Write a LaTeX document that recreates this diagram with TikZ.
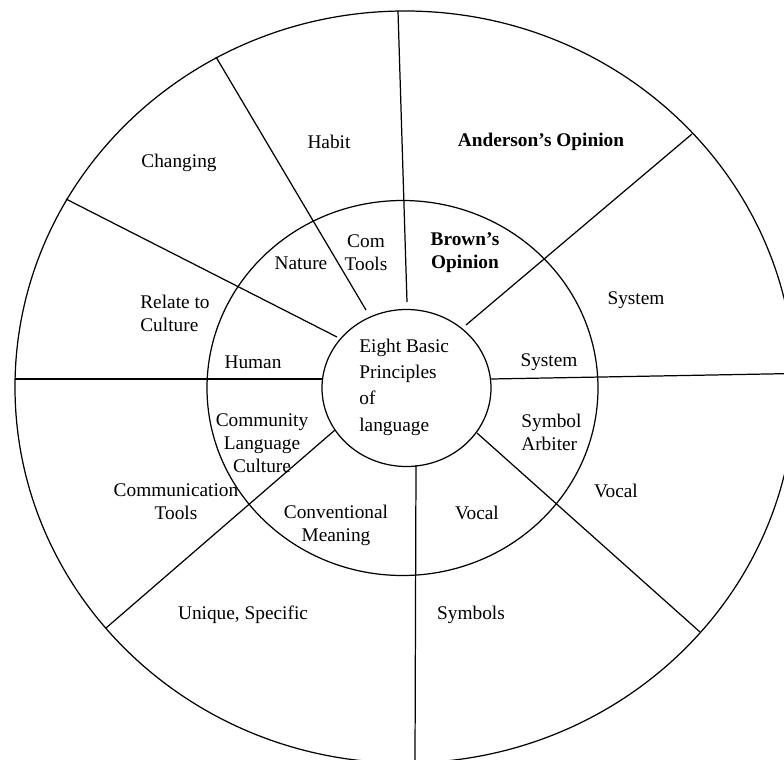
\documentclass[tikz,border=0pt]{standalone}
\usepackage{fontspec}
\setmainfont{Liberation Serif}
\usepackage{tikz}

\tikzset{
	ring/.style={line width=0.7pt},
	spoke/.style={line width=0.7pt},
	lbl/.style={font=\fontsize{11}{13}\selectfont, align=center, inner sep=0pt},
	blbl/.style={lbl, font=\fontsize{11}{13}\selectfont\bfseries},
	lbll/.style={lbl, align=left, anchor=west},
}

\begin{document}
\begin{tikzpicture}
			\useasboundingbox (-8.10,-7.44) rectangle (7.58,7.74);
			
			%Rings
			\draw[ring] (0,0) ellipse [x radius=7.80, y radius=7.52];
			\draw[ring] (-0.05,-0.02) ellipse [x radius=3.91, y radius=3.75];
			\draw[ring] (0.03,-0.02) ellipse [x radius=1.69, y radius=1.57];
			
			%Spoke ends
			\coordinate (i1) at (-1.66,0.16);  \coordinate (o1) at (-7.80,0.16);
			\coordinate (i2) at (1.72,0.16);   \coordinate (o2) at (7.79,0.27);
			\coordinate (i3) at (0.04,1.70);   \coordinate (o3) at (-0.14,7.52);
			\coordinate (i4) at (0.22,-1.56);  \coordinate (o4) at (0.20,-7.52);
			\coordinate (i5) at (-0.78,1.54);  \coordinate (o5) at (-3.78,6.60);
			\coordinate (i6) at (-1.36,1.00);  \coordinate (o6) at (-6.78,3.76);
			\coordinate (i7) at (1.22,1.24);   \coordinate (o7) at (5.74,5.06);
			\coordinate (i8) at (-1.40,-0.86); \coordinate (o8) at (-5.98,-4.82);
			\coordinate (i9) at (1.44,-0.92);  \coordinate (o9) at (5.90,-4.90);
			
			%Spokes
			\foreach \k in {1,...,9}
				\draw[spoke] (i\k) -- (o\k);
			
			%Outer ring
			\node[lbl] (changing) at (-4.52,4.48) {Changing};
			\node[lbl] (habit) at (-1.52,4.90) {Habit};
			\node[blbl] (anderson) at (2.72,4.90) {Anderson’s Opinion};
			\node[lbl] (sysout) at (4.62,1.74) {System};
			\node[lbl] (vocalout) at (4.22,-2.08) {Vocal};
			\node[lbl] (symbols) at (1.32,-4.56) {Symbols};
			\node[lbl] (unique) at (-3.24,-4.56) {Unique, Specific};
			\node[lbl] (commtools) at (-4.58,-2.30) {Communication\\Tools};
			\node[lbll] (relate) at (-5.30,1.48) {Relate to\\Culture};
			
			%Middle ring
			\node[lbl] (nature) at (-2.08,2.48) {Nature};
			\node[lbl] (comtools) at (-0.78,2.68) {Com\\Tools};
			\node[blbl] (brown) at (1.20,2.68) {Brown’s\\Opinion};
			\node[lbl] (sysin) at (2.88,0.50) {System};
			\node[lbll] (symbol) at (2.32,-0.90) {Symbol\\Arbiter};
			\node[lbl] (vocalin) at (1.44,-2.52) {Vocal};
			\node[lbl] (conv) at (-1.38,-2.76) {Conventional\\Meaning};
			\node[lbl] (community) at (-2.86,-1.12) {Community\\Language\\Culture};
			\node[lbl] (human) at (-3.04,0.50) {Human};
			
			%Centre
			\node[lbll, font=\fontsize{11}{15}\selectfont] (core) at (-0.92,0.00) {Eight Basic\\Principles\\of\\language};
\end{tikzpicture}
\end{document}
